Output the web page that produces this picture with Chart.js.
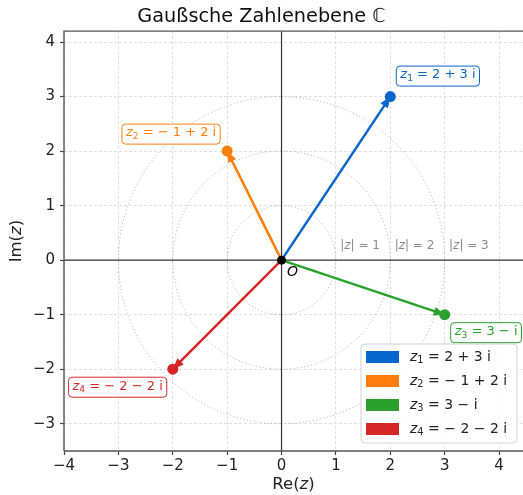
<!DOCTYPE html>
<html>
<head>
<meta charset="utf-8">
<script src="https://cdn.jsdelivr.net/npm/chart.js@4"></script>
<style>
  html, body { margin: 0; padding: 0; background: #fff; }
  #wrap { width: 523px; height: 495px; position: relative; }
</style>
</head>
<body>
<div id="wrap"><canvas id="plane"></canvas></div>
<script>
// --- data ---
const subIndex = ['1', '2', '3', '4'];
const reParts = [2, -1, 3, -2];
const imParts = [3, 2, -1, -2];
const valueTexts = ['2 + 3 i', '\u2212 1 + 2 i', '3 \u2212 i', '\u2212 2 \u2212 2 i'];
const radii = [1, 2, 3];
const xTicks = [-4, -3, -2, -1, 0, 1, 2, 3, 4];
const yTicks = [-3, -2, -1, 0, 1, 2, 3, 4];
const xRange = [-4, 4.44];
const yRange = [-3.5, 4.2];

// --- style ---
const colors = ['#0766cc', '#ff7f0e', '#2ca02c', '#d62728'];
// annotation box placement relative to the point (px): side of box and offset
const labelPos = [
    { align: 'left', dx: 6, dy: -20.5 },
    { align: 'right', dx: -7, dy: -17 },
    { align: 'left', dx: 6, dy: 18 },
    { align: 'right', dx: -6, dy: 18 }
];
const FAM = '"DejaVu Sans"';

function drawMath(ctx, parts, x, y, align, size, color) {
    const fonts = {
        n: `${size}px ${FAM}`,
        i: `italic ${size}px ${FAM}`,
        s: `${(size * 0.7).toFixed(1)}px ${FAM}`
    };
    let w = 0;
    parts.forEach(p => { ctx.font = fonts[p[1]]; w += ctx.measureText(p[0]).width; });
    if (!color) return w;
    let cx = align === 'right' ? x - w : align === 'center' ? x - w / 2 : x;
    ctx.fillStyle = color;
    ctx.textAlign = 'left';
    ctx.textBaseline = 'middle';
    parts.forEach(p => {
        ctx.font = fonts[p[1]];
        ctx.fillText(p[0], cx, p[1] === 's' ? y + size * 0.28 : y);
        cx += ctx.measureText(p[0]).width;
    });
    return w;
}

function roundRect(ctx, x, y, w, h, r) {
    ctx.beginPath();
    ctx.moveTo(x + r, y);
    ctx.arcTo(x + w, y, x + w, y + h, r);
    ctx.arcTo(x + w, y + h, x, y + h, r);
    ctx.arcTo(x, y + h, x, y, r);
    ctx.arcTo(x, y, x + w, y, r);
    ctx.closePath();
}

const mathParts = k => [['z', 'i'], [subIndex[k], 's'], [' = ' + valueTexts[k], 'n']];

const planePlugin = {
    id: 'plane',
    beforeDatasetsDraw(chart) {
        const { ctx, chartArea: a, scales: { x, y } } = chart;
        const ox = x.getPixelForValue(0), oy = y.getPixelForValue(0);
        ctx.save();
        ctx.beginPath();
        ctx.rect(a.left, a.top, a.right - a.left, a.bottom - a.top);
        ctx.clip();

        // reference circles
        ctx.strokeStyle = '#a8a8a8';
        ctx.lineWidth = 1;
        ctx.setLineDash([1, 2.5]);
        radii.forEach(r => {
            const rx = x.getPixelForValue(r) - ox;
            const ry = oy - y.getPixelForValue(r);
            ctx.beginPath();
            ctx.ellipse(ox, oy, rx, ry, 0, 0, Math.PI * 2);
            ctx.stroke();
        });
        ctx.setLineDash([]);

        // axes through origin
        ctx.strokeStyle = '#333';
        ctx.lineWidth = 1.2;
        ctx.beginPath();
        ctx.moveTo(a.left, oy); ctx.lineTo(a.right, oy);
        ctx.moveTo(ox, a.top); ctx.lineTo(ox, a.bottom);
        ctx.stroke();

        // arrow heads
        reParts.forEach((re, k) => {
            const px = x.getPixelForValue(re), py = y.getPixelForValue(imParts[k]);
            const ang = Math.atan2(py - oy, px - ox);
            const L = 11, W = 4.5;
            ctx.fillStyle = colors[k];
            ctx.beginPath();
            ctx.moveTo(px, py);
            ctx.lineTo(px - L * Math.cos(ang) + W * Math.sin(ang), py - L * Math.sin(ang) - W * Math.cos(ang));
            ctx.lineTo(px - L * Math.cos(ang) - W * Math.sin(ang), py - L * Math.sin(ang) + W * Math.cos(ang));
            ctx.closePath();
            ctx.fill();
        });
        ctx.restore();

        // spines
        ctx.save();
        ctx.strokeStyle = '#555';
        ctx.lineWidth = 1.4;
        ctx.beginPath();
        ctx.moveTo(a.left, a.bottom); ctx.lineTo(a.left, a.top); ctx.lineTo(a.right + 2, a.top);
        ctx.moveTo(a.left, a.bottom); ctx.lineTo(a.right + 2, a.bottom);
        ctx.stroke();
        ctx.restore();
    },
    afterDatasetsDraw(chart) {
        const { ctx, chartArea: a, scales: { x, y } } = chart;
        ctx.save();

        // |z| = r labels
        radii.forEach(r => {
            drawMath(ctx, [['|', 'n'], ['z', 'i'], ['| = ' + r, 'n']],
                x.getPixelForValue(r + 0.08), y.getPixelForValue(0.26), 'left', 12, '#8a8a8a');
        });

        // origin label
        ctx.font = `italic 14px ${FAM}`;
        ctx.fillStyle = '#000';
        ctx.textBaseline = 'middle';
        ctx.textAlign = 'left';
        ctx.fillText('O', x.getPixelForValue(0.1), y.getPixelForValue(-0.23));

        // point annotations
        const fs = 13;
        reParts.forEach((re, k) => {
            const px = x.getPixelForValue(re), py = y.getPixelForValue(imParts[k]);
            const pos = labelPos[k];
            const w = drawMath(ctx, mathParts(k), 0, 0, 'left', fs, null);
            const bw = w + 8, bh = 20;
            const bx = pos.align === 'left' ? px + pos.dx : px + pos.dx - bw;
            const by = py + pos.dy - bh / 2;
            roundRect(ctx, bx, by, bw, bh, 3.5);
            ctx.fillStyle = 'rgba(255,255,255,0.9)';
            ctx.fill();
            ctx.strokeStyle = colors[k];
            ctx.lineWidth = 1;
            ctx.stroke();
            drawMath(ctx, mathParts(k), bx + 4, by + bh / 2 - 1, 'left', fs, colors[k]);
        });

        // legend
        const lx = 361, ly = 344, lw = 156, lh = 99;
        roundRect(ctx, lx, ly, lw, lh, 4);
        ctx.fillStyle = 'rgba(255,255,255,0.85)';
        ctx.fill();
        ctx.strokeStyle = '#d0d0d0';
        ctx.lineWidth = 1;
        ctx.stroke();
        reParts.forEach((re, k) => {
            const cy = ly + 13 + k * 24;
            ctx.fillStyle = colors[k];
            ctx.fillRect(lx + 5, cy - 6, 33, 12);
            drawMath(ctx, mathParts(k), lx + 49, cy, 'left', 14, '#222');
        });

        // axis titles
        drawMath(ctx, [['Re(', 'n'], ['z', 'i'], [')', 'n']], (a.left + a.right) / 2, 485, 'center', 16.5, '#222');
        ctx.translate(17, (a.top + a.bottom) / 2);
        ctx.rotate(-Math.PI / 2);
        drawMath(ctx, [['Im(', 'n'], ['z', 'i'], [')', 'n']], 0, 0, 'center', 16.5, '#222');
        ctx.restore();
    }
};

const datasets = [{
    data: [{ x: 0, y: 0 }],
    pointRadius: 4.5,
    pointBackgroundColor: '#000',
    pointBorderWidth: 0,
    showLine: false
}];
reParts.forEach((re, k) => {
    datasets.push({
        data: [{ x: 0, y: 0 }, { x: re, y: imParts[k] }],
        showLine: true,
        borderColor: colors[k],
        borderWidth: 2.5,
        pointRadius: [0, 5.5],
        pointBackgroundColor: colors[k],
        pointBorderWidth: 0
    });
});

const tickFont = { family: 'DejaVu Sans', size: 15 };
const gridOpts = {
    color: '#e0e0e0',
    lineWidth: 1,
    tickColor: '#444',
    tickLength: 4,
    tickWidth: 1.2
};

new Chart(document.getElementById('plane'), {
    type: 'scatter',
    data: { datasets },
    options: {
        responsive: true,
        maintainAspectRatio: false,
        animation: false,
        layout: { autoPadding: false, padding: { left: 0, right: 0, top: 0, bottom: 0 } },
        plugins: {
            legend: { display: false },
            tooltip: { enabled: false },
            title: {
                display: true,
                text: 'Gaußsche Zahlenebene \u2102',
                color: '#111',
                font: { family: 'DejaVu Sans', size: 19.3, weight: 'normal' },
                padding: { top: 5, bottom: 3 }
            }
        },
        scales: {
            x: {
                type: 'linear',
                min: xRange[0], max: xRange[1],
                afterBuildTicks: s => { s.ticks = xTicks.map(v => ({ value: v })); },
                afterFit: s => { s.height = 44; s.paddingLeft = 0; s.paddingRight = 0; },
                grid: gridOpts,
                border: { display: false, dash: [3, 2] },
                ticks: {
                    color: '#222', font: tickFont, padding: 2, maxRotation: 0,
                    callback: v => String(v).replace('-', '\u2212')
                }
            },
            y: {
                type: 'linear',
                min: yRange[0], max: yRange[1],
                afterBuildTicks: s => { s.ticks = yTicks.map(v => ({ value: v })); },
                afterFit: s => { s.width = 64; s.paddingTop = 0; s.paddingBottom = 0; },
                grid: gridOpts,
                border: { display: false, dash: [3, 2] },
                ticks: {
                    color: '#222', font: tickFont, padding: 5,
                    callback: v => String(v).replace('-', '\u2212')
                }
            }
        }
    },
    plugins: [planePlugin]
});
</script>
</body>
</html>
